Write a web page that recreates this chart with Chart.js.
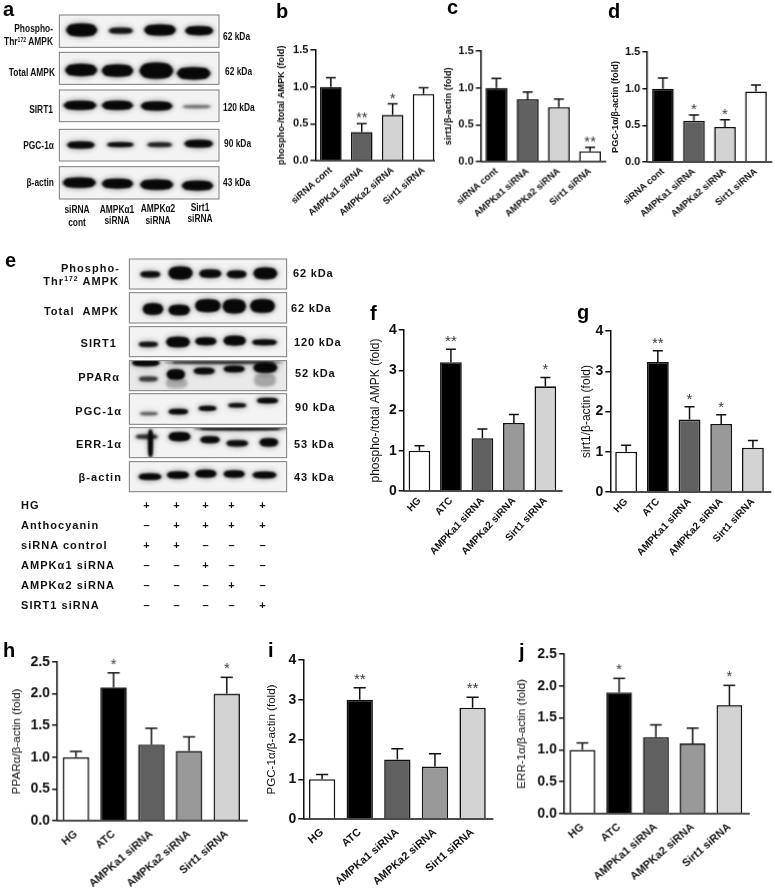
<!DOCTYPE html>
<html><head><meta charset="utf-8">
<style>
html,body{margin:0;padding:0;background:#fff;width:775px;height:888px;overflow:hidden}
#page{position:relative;width:775px;height:888px;font-family:"Liberation Sans",Arial,sans-serif;color:#111;filter:blur(.3px)}
canvas{position:absolute}
.t{position:absolute;white-space:nowrap;line-height:1;transform:translateY(-50%)}
.t.r{transform:translate(-100%,-50%)}
.t.c{transform:translate(-50%,-50%)}
sup{font-size:.62em;line-height:0;vertical-align:.45em}
.n{font-weight:700;font-size:10.5px}
.t.n{transform:translateY(-50%) scaleX(.8);transform-origin:left center}
.t.n.r{transform:translate(-100%,-50%) scaleX(.8);transform-origin:right center}
.t.n.c{transform:translate(-50%,-50%) scaleX(.8);transform-origin:center center}
.w{font-weight:700;font-size:11px;letter-spacing:1.05px}
.k{font-weight:700;font-size:11px;letter-spacing:.85px}
.L{font-weight:700;font-size:20px;color:#000}
</style></head><body><div id="page"><canvas id="blots" width="775" height="888" style="left:0;top:0"></canvas></div>
<script src="https://cdn.jsdelivr.net/npm/chart.js@4"></script>
<script>
// ---------- data ----------
const siCats = ['siRNA cont','AMPKa1 siRNA','AMPKa2 siRNA','Sirt1 siRNA'];
const atcCats = ['HG','ATC','AMPKa1 siRNA','AMPKa2 siRNA','Sirt1 siRNA'];
const siColors = ['#000000','#606060','#d3d3d3','#ffffff'];
const atcColors = ['#ffffff','#000000','#606060','#999999','#d3d3d3'];

const valuesB = [1.0,0.39,0.62,0.905];  const errB = [1.125,0.50,0.77,0.99];  const starsB = ['','**','*',''];
const valuesC = [1.0,0.846,0.74,0.14];  const errC = [1.13,0.945,0.85,0.195]; const starsC = ['','','','**'];
const valuesD = [1.0,0.563,0.477,0.96]; const errD = [1.144,0.64,0.577,1.05]; const starsD = ['','*','*',''];
const valuesF = [1.0,3.2,1.31,1.69,2.6];  const errF = [1.126,3.52,1.54,1.9,2.82];  const starsF = ['','**','','','*'];
const valuesG = [1.0,3.23,1.8,1.69,1.1];  const errG = [1.16,3.51,2.12,1.92,1.28];  const starsG = ['','**','*','*',''];
const valuesH = [1.0,2.1,1.2,1.1,2.0];    const errH = [1.09,2.33,1.455,1.32,2.26]; const starsH = ['','*','','','*'];
const valuesI = [1.0,3.0,1.5,1.32,2.8];   const errI = [1.12,3.3,1.77,1.64,3.06];   const starsI = ['','**','','','**'];
const valuesJ = [1.0,1.9,1.2,1.1,1.7];    const errJ = [1.11,2.12,1.39,1.34,2.01];  const starsJ = ['','*','','','*'];

// ---------- chart layout ----------
const small = {titleSize:9.2,titleWeight:'bold',tickSize:11,labelSize:9.4,rot:41,maxBar:0.7,padX:4,starGap:-1};
const midF  = {titleSize:12,titleWeight:'normal',tickSize:14,labelSize:10.1,rot:47,maxBar:0.69,padX:4,starGap:-3};
const wide  = {titleSize:11.6,titleWeight:'normal',tickSize:14,labelSize:10.9,rot:41,maxBar:0.7,padX:7,starGap:-4};
const panels = [
 {s:small,cats:siCats,colors:siColors,v:valuesB,e:errB,st:starsB,title:'phospho-/total AMPK (fold)',max:1.5,step:.5,dec:1,axis:315.5,spacing:31,end:435,top:50,zero:160.7,tx:281.7},
 {s:small,cats:siCats,colors:siColors,v:valuesC,e:errC,st:starsC,title:'sirt1/β-actin (fold)',max:1.5,step:.5,dec:1,axis:481,spacing:31.1,end:605.7,top:51,zero:161.7,tx:449},
 {s:small,cats:siCats,colors:siColors,v:valuesD,e:errD,st:starsD,title:'PGC-1α/β-actin (fold)',max:1.5,step:.5,dec:1,axis:647.6,spacing:30.9,end:771.7,top:51.7,zero:162.3,tx:616},
 {s:midF,cats:atcCats,colors:atcColors,v:valuesF,e:errF,st:starsF,title:'phospho-/total AMPK (fold)',max:4,step:1,dec:0,axis:403.4,spacing:31.6,end:562.3,top:329.7,zero:490.7,tx:375.7},
 {s:midF,cats:atcCats,colors:atcColors,v:valuesG,e:errG,st:starsG,title:'sirt1/β-actin (fold)',max:4,step:1,dec:0,axis:610,spacing:31.75,end:771,top:330.7,zero:492.3,tx:586.7},
 {s:wide,cats:atcCats,colors:atcColors,v:valuesH,e:errH,st:starsH,title:'PPARα/β-actin (fold)',max:2.5,step:.5,dec:1,axis:56.8,spacing:37.7,end:246.7,top:662.3,zero:821,tx:16.7},
 {s:wide,cats:atcCats,colors:atcColors,v:valuesI,e:errI,st:starsI,title:'PGC-1α/β-actin (fold)',max:4,step:1,dec:0,axis:303.2,spacing:37.7,end:493.3,top:660,zero:819,tx:271.7},
 {s:wide,cats:atcCats,colors:atcColors,v:valuesJ,e:errJ,st:starsJ,title:'ERR-1α/β-actin (fold)',max:2.5,step:.5,dec:1,axis:563.7,spacing:36.75,end:748.7,top:654.3,zero:813.7,tx:521.7}
];

const errorPlugin = {
  id:'errorBars',
  afterDatasetsDraw(chart,args,opts){
    const ctx=chart.ctx, y=chart.scales.y, meta=chart.getDatasetMeta(0);
    ctx.save();
    ctx.strokeStyle='#111';ctx.lineWidth=1.5;
    const by=y.getPixelForValue(0);
    ctx.beginPath();ctx.moveTo(chart.chartArea.left,by);ctx.lineTo(opts.end-opts.left,by);ctx.stroke();
    meta.data.forEach((bar,i)=>{
      const top=y.getPixelForValue(opts.err[i]), cap=bar.width*0.23;
      ctx.beginPath();
      ctx.moveTo(bar.x,bar.y);ctx.lineTo(bar.x,top);
      ctx.moveTo(bar.x-cap,top);ctx.lineTo(bar.x+cap,top);
      ctx.stroke();
      if(opts.stars[i]){
        ctx.fillStyle='#3a3a3a';ctx.font='15px "Liberation Sans"';
        ctx.textAlign='center';ctx.textBaseline='alphabetic';
        ctx.fillText(opts.stars[i],bar.x,top+opts.gap);
      }
    });
    ctx.restore();
  }
};

const page=document.getElementById('page');
panels.forEach(p=>{
  const s=p.s, left=p.tx-s.titleSize/2, topPad=12, below=90;
  const w=Math.max(p.axis-left+p.spacing*p.cats.length, p.end-left)+6;
  const h=p.zero-p.top+topPad+below;
  const c=document.createElement('canvas');
  c.style.left=left+'px';c.style.top=(p.top-topPad)+'px';
  c.style.width=w+'px';c.style.height=h+'px';c.width=w;c.height=h;
  page.appendChild(c);
  new Chart(c,{
    type:'bar',
    data:{labels:p.cats,datasets:[{data:p.v,backgroundColor:p.colors,borderColor:'#111',borderWidth:1.6,
      categoryPercentage:1,barPercentage:s.maxBar}]},
    options:{
      responsive:false,animation:false,devicePixelRatio:1,
      layout:{padding:{top:topPad,right:w-(p.axis-left)-p.spacing*p.cats.length,bottom:0,left:0}},
      plugins:{legend:{display:false},tooltip:{enabled:false},
        errorBars:{err:p.e,stars:p.st,gap:s.starGap,end:p.end,left:left}},
      scales:{
        x:{grid:{display:false,drawTicks:false},border:{display:false},
          afterFit(sc){sc.height=below;},
          ticks:{autoSkip:false,minRotation:s.rot,maxRotation:s.rot,padding:s.padX,color:'#111',
            font:{family:'Liberation Sans',weight:'bold',size:s.labelSize}}},
        y:{min:0,max:p.max,
          afterFit(sc){sc.width=p.axis-left;},
          grid:{drawOnChartArea:false,drawTicks:true,tickLength:5,color:'#111',lineWidth:1.5},
          border:{display:true,color:'#111',width:1.5},
          title:{display:true,text:p.title,color:'#111',padding:0,
            font:{family:'Liberation Sans',weight:s.titleWeight,size:s.titleSize,lineHeight:1}},
          ticks:{stepSize:p.step,padding:2,color:'#111',
            font:{family:'Liberation Sans',weight:'bold',size:s.tickSize},
            callback:v=>Number(v).toFixed(p.dec)}}
      }
    },
    plugins:[errorPlugin]
  });
});

// ---------- text ----------
function t(txt,x,y,cls){const d=document.createElement('div');d.className='t '+cls;d.style.left=x+'px';d.style.top=y+'px';d.innerHTML=txt;page.appendChild(d);}
[['a',3,9],['b',276,11],['c',447,7],['d',608,11],['e',5,260],['f',370,313],['g',577,312],['h',3,650],['i',268,650],['j',519,651]].forEach(a=>t(a[0],a[1],a[2],'L'));

[['Phospho-',53,28],['Thr<sup>172</sup> AMPK',53,41],['Total AMPK',55,72],['SIRT1',53,109],['PGC-1α',54,145],['β-actin',54,182]].forEach(a=>t(a[0],a[1],a[2],'n r'));
[['62 kDa',223,36],['62 kDa',225,71],['120 kDa',223,107],['90 kDa',224,143],['43 kDa',223,182]].forEach(a=>t(a[0],a[1],a[2],'n'));
[['siRNA',77,209],['cont',77,222],['AMPKα1',117,209],['siRNA',117,220],['AMPKα2',158,208],['siRNA',158,220],['Sirt1',200,207],['siRNA',200,218]].forEach(a=>t(a[0],a[1],a[2],'n c'));

[['Phospho-',120,268],['Thr<sup>172</sup> AMPK',119,281],['Total&nbsp; AMPK',119,311],['SIRT1',117,343],['PPARα',120,377],['PGC-1α',122,411],['ERR-1α',122,444],['β-actin',122,477]].forEach(a=>t(a[0],a[1],a[2],'w r'));
[['62 kDa',293,273],['62 kDa',291,308],['120 kDa',294,342],['52 kDa',295,373],['90 kDa',295,407],['53 kDa',294,444],['43 kDa',294,477]].forEach(a=>t(a[0],a[1],a[2],'k'));

const treatCols=[147,177,206,232,263];
const treatRows=[['HG',505,'+++++'],['Anthocyanin',525,'-++++'],['siRNA control',545,'++---'],['AMPKα1 siRNA',565,'--+--'],['AMPKα2 siRNA',585,'---+-'],['SIRT1 siRNA',605,'----+']];
treatRows.forEach(r=>{t(r[0],21,r[1],'w');[...r[2]].forEach((m,i)=>t(m==='+'?'+':'–',treatCols[i],r[1],'w c'));});

// ---------- western blots (photographic panels, not data) ----------
const bc=document.getElementById('blots').getContext('2d');
function blot(ox,oy,box,bands,bg){
  const x=ox+box[0]/3,y=oy+box[1]/3,w=(box[2]-box[0])/3,h=(box[3]-box[1])/3;
  bc.save();bc.beginPath();bc.rect(x,y,w,h);bc.clip();
  bc.fillStyle=bg||'#f3f3f3';bc.fillRect(x,y,w,h);
  bands.forEach(b=>{
    const bw=(b[1]-b[0])/3,bh=b[3]/3,a=b[4]===undefined?0.97:b[4];
    bc.filter='blur(2.5px)';
    bc.fillStyle='rgba(8,8,8,'+a*.3+')';
    bc.beginPath();bc.ellipse(ox+(b[0]+b[1])/6,oy+b[2]/3,bw/2+1,bh/2+2.5,0,0,Math.PI*2);bc.fill();
    bc.filter='blur(1.2px)';
    bc.fillStyle='rgba(8,8,8,'+a+')';
    bc.beginPath();bc.ellipse(ox+(b[0]+b[1])/6,oy+b[2]/3,bw/2,bh/2+.5,0,0,Math.PI*2);bc.fill();
    bc.beginPath();bc.roundRect(ox+b[0]/3+bw*.08,oy+b[2]/3-bh*.45,bw*.84,bh*.9,bh*.3);bc.fill();
  });
  bc.restore();
  bc.strokeStyle='#7c7c7c';bc.lineWidth=1;bc.strokeRect(x,y,w,h);
}
const A=[178,657];
[[[45,142],[[198,292,90,36],[325,400,92,16,.75],[432,528,90,30],[555,640,92,24]]],
 [[157,253],[[195,292,210,34],[305,400,212,34],[418,520,212,46],[530,632,220,34]]],
 [[270,365],[[190,290,316,24],[305,400,316,24],[422,518,318,24],[545,635,320,9,.3]]],
 [[388,483],[[200,285,435,18,.9],[320,402,434,11,.9],[440,518,434,12,.65],[552,640,431,20,.9]]],
 [[500,597],[[188,288,548,28],[305,400,551,26],[420,520,554,28],[545,640,557,26]]]
].forEach(r=>blot(0,0,[A[0],r[0][0],A[1],r[0][1]],r[1]));
const E=[388,860];
[[[42,132],[[420,482,88,16,.85],[505,578,84,36],[597,665,86,22,.9],[680,740,88,20,.9],[760,832,85,32]]],
 [[143,234],[[428,490,192,32],[505,570,195,28],[585,662,182,36],[668,738,184,40],[750,825,183,38]]],
 [[245,335],[[415,475,298,13,.8],[498,570,291,28],[585,650,289,20],[670,738,287,26],[755,832,292,14,.9]]],
 [[347,437],[[395,480,353,18],[415,475,402,14,.5],[500,555,388,28],[580,645,378,16,.9],[670,735,372,16,.9],[760,832,368,28,.95],[490,850,352,7,.6],[495,565,415,30,.12],[760,830,405,40,.14]],'#e9e9e9'],
 [[446,538],[[418,475,506,8,.4],[505,565,500,13],[595,650,490,11],[683,740,481,9,.9],[770,835,467,13]]],
 [[548,638],[[405,475,575,12,.55],[505,572,575,24],[600,660,584,18,.9],[678,745,595,16,.85],[778,835,592,22,.9],[580,860,551,8,.8],[445,458,595,85]]],
 [[650,740],[[415,485,695,16],[500,568,690,18],[585,650,686,20],[670,735,687,18],[757,830,690,16]]]
].forEach(r=>blot(0,245,[E[0],r[0][0],E[1],r[0][1]],r[1],r[2]));
</script></body></html>
